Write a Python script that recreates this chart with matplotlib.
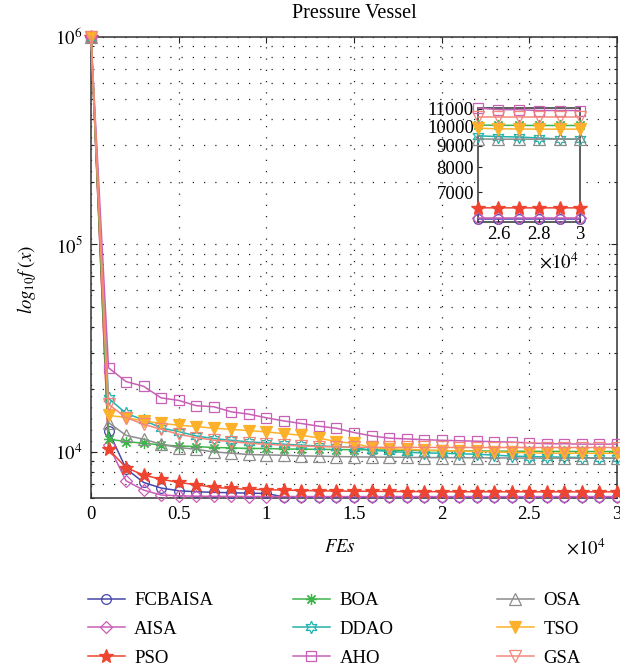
import matplotlib
matplotlib.use("Agg")
import matplotlib.pyplot as plt
from matplotlib.ticker import FixedLocator, LogLocator, NullLocator, NullFormatter

plt.rcParams['font.family'] = ['Liberation Serif', 'DejaVu Serif']
plt.rcParams['mathtext.fontset'] = 'stix'

# ---- data -------------------------------------------------------------
fes = [0, 1000, 2000, 3000, 4000, 5000, 6000, 7000, 8000, 9000, 10000,
       11000, 12000, 13000, 14000, 15000, 16000, 17000, 18000, 19000, 20000,
       21000, 22000, 23000, 24000, 25000, 26000, 27000, 28000, 29000, 30000]

names = ['FCBAISA', 'AISA', 'PSO', 'BOA', 'DDAO', 'AHO', 'OSA', 'TSO', 'GSA']

fcbaisa = [1000000, 12600, 8300, 7130, 6700, 6500, 6430, 6390, 6360, 6330, 6310,
           6070, 6062, 6061, 6060, 6060, 6060, 6060, 6060, 6060, 6060,
           6060, 6060, 6060, 6060, 6060, 6060, 6060, 6060, 6060, 6060]
aisa = [1000000, 10770, 7260, 6550, 6200, 6150, 6120, 6110, 6105, 6100, 6100,
        6098, 6097, 6096, 6095, 6095, 6094, 6094, 6094, 6094, 6094,
        6094, 6094, 6094, 6094, 6094, 6094, 6094, 6094, 6094, 6094]
pso = [1000000, 10300, 8410, 7730, 7390, 7130, 6950, 6750, 6670, 6610, 6580,
       6550, 6520, 6500, 6480, 6470, 6460, 6450, 6445, 6440, 6435,
       6432, 6430, 6430, 6428, 6426, 6425, 6425, 6425, 6425, 6425]
boa = [1000000, 11510, 11220, 11010, 10800, 10680, 10610, 10500, 10460, 10390, 10390,
       10330, 10310, 10290, 10270, 10250, 10230, 10200, 10180, 10160, 10140,
       10120, 10100, 10090, 10080, 10070, 10060, 10055, 10050, 10050, 10050]
ddao = [1000000, 18100, 15350, 14240, 13040, 12530, 11940, 11590, 11380, 11170, 11050,
        10890, 10770, 10680, 10610, 10500, 10200, 10050, 9950, 9900, 9850,
        9800, 9750, 9650, 9550, 9500, 9460, 9440, 9390, 9340, 9330]
aho = [1000000, 25400, 21800, 20700, 18200, 17700, 16700, 16500, 15600, 15200, 14600,
       14100, 13700, 13300, 13000, 12400, 11950, 11650, 11550, 11450, 11380,
       11320, 11260, 11200, 11150, 11050, 10950, 10950, 10900, 10900, 10900]
osa = [1000000, 13840, 12020, 11510, 10890, 10500, 10300, 10000, 9860, 9720, 9670,
       9640, 9570, 9540, 9500, 9470, 9450, 9430, 9420, 9400, 9390,
       9380, 9370, 9360, 9350, 9340, 9330, 9330, 9330, 9330, 9330]
tso = [1000000, 15000, 14630, 14090, 13740, 13440, 13250, 13000, 12850, 12670, 12480,
       12250, 12020, 11670, 11200, 11000, 10500, 10350, 10300, 10200, 10150,
       10100, 10050, 10000, 9950, 9900, 9870, 9860, 9850, 9850, 9850]
gsa = [1000000, 16940, 14630, 13590, 12850, 12160, 11720, 11380, 11220, 11010, 10890,
       10770, 10680, 10610, 10570, 10540, 10530, 10520, 10520, 10510, 10510,
       10500, 10500, 10500, 10500, 10500, 10500, 10500, 10500, 10500, 10500]

series = [fcbaisa, aisa, pso, boa, ddao, aho, osa, tso, gsa]

x_ticks = [0, 5000, 10000, 15000, 20000, 25000, 30000]
x_ticklabels = ['0', '0.5', '1', '1.5', '2', '2.5', '3']
y_ticks = [1e4, 1e5, 1e6]
y_ticklabels = [r'$10^{4}$', r'$10^{5}$', r'$10^{6}$']

inset_x_ticks = [26000, 28000, 30000]
inset_x_ticklabels = ['2.6', '2.8', '3']
inset_y_ticks = [7000, 8000, 9000, 10000, 11000]
inset_y_ticklabels = ['7000', '8000', '9000', '10000', '11000']

# ---- styles -----------------------------------------------------------
colors = ['#4545AA', '#C95DB7', '#EE4430', '#3DB54A', '#22B3AC',
          '#C860B5', '#8C8C8C', '#FDB12A', '#F4877A']
markers = ['o', 'D', '*', (8, 2, 0), (6, 1, 0), 's', '^', 'v', 'v']
faces = ['none', 'none', '#EE4430', 'none', 'none', 'none', 'none', '#FDB12A', 'none']
msizes = [7, 6, 10, 8, 9, 7, 8, 9, 8]

fs = 13.5
W, H = 620, 671

fig = plt.figure(figsize=(W / 100, H / 100), dpi=100)

ax = fig.add_axes([91 / W, 1 - 498 / H, (617 - 91) / W, (498 - 36.5) / H])
ax.set_yscale('log')

lines = []
for vals, c, m, fc, ms in zip(series, colors, markers, faces, msizes):
    ln, = ax.plot(fes, vals, color=c, lw=1.1, marker=m, ms=ms, mfc=fc,
                  mec=c, mew=0.9, clip_on=False, zorder=3)
    lines.append(ln)

ax.set_xlim(0, 30000)
ax.set_ylim(6000, 1e6)
ax.xaxis.set_major_locator(FixedLocator(x_ticks))
ax.set_xticklabels(x_ticklabels)
ax.yaxis.set_major_locator(FixedLocator(y_ticks))
ax.set_yticklabels(y_ticklabels)
ax.yaxis.set_minor_locator(LogLocator(base=10, subs=(2, 3, 4, 5, 6, 7, 8, 9)))
ax.yaxis.set_minor_formatter(NullFormatter())
ax.xaxis.set_minor_locator(NullLocator())

dots = (0, (1, 8))
ax.set_axisbelow(True)
ax.grid(True, which='major', axis='x', ls=dots, lw=0.9, color='#222222')
ax.grid(True, which='both', axis='y', ls=dots, lw=0.9, color='#222222')

ax.tick_params(which='both', direction='in', top=True, right=True,
               labelsize=fs, width=0.8, color='#222222')
ax.tick_params(which='major', length=4.5, pad=6)
ax.tick_params(which='minor', length=2.5)
for sp in ax.spines.values():
    sp.set_linewidth(1.1)
    sp.set_color('#333333')

fig.text(354 / W, 1 - 14 / H, 'Pressure Vessel', ha='center', va='center', fontsize=14.5)
fig.text(27 / W, 1 - 280 / H, r'$log_{10}f\;(x)$', rotation=90,
         ha='center', va='center', fontsize=fs)
fig.text(340 / W, 1 - 548 / H, r'$FEs$', ha='center', va='center', fontsize=fs)
fig.text(566 / W, 1 - 548 / H, r'$\times10^{4}$', ha='left', va='center', fontsize=fs)

# ---- zoomed view of the final stage ----------------------------------
axin = fig.add_axes([478 / W, 1 - 222 / H, 102 / W, 114 / H])
axin.set_yscale('log')
for vals, c, m, fc, ms in zip(series, colors, markers, faces, msizes):
    axin.plot(fes[25:], vals[25:], color=c, lw=1.1, marker=m, ms=ms, mfc=fc,
              mec=c, mew=0.9, clip_on=False, zorder=3)
axin.set_xlim(25000, 30000)
axin.set_ylim(5950, 11050)
axin.xaxis.set_major_locator(FixedLocator(inset_x_ticks))
axin.set_xticklabels(inset_x_ticklabels)
axin.yaxis.set_major_locator(FixedLocator(inset_y_ticks))
axin.set_yticklabels(inset_y_ticklabels)
axin.yaxis.set_minor_locator(NullLocator())
axin.yaxis.set_minor_formatter(NullFormatter())
axin.tick_params(which='both', direction='in', labelsize=fs, length=3,
                 width=0.8, pad=3, color='#222222')
for sp in axin.spines.values():
    sp.set_linewidth(1.1)
    sp.set_color('#333333')
fig.text(539 / W, 1 - 262 / H, r'$\times10^{4}$', ha='left', va='center', fontsize=fs)

# ---- legend: three columns -------------------------------------------
col_x = [88, 293, 497]
for k, x0 in enumerate(col_x):
    fig.legend(lines[3 * k:3 * k + 3], names[3 * k:3 * k + 3],
               loc='upper left', bbox_to_anchor=(x0 / W, 1 - 592 / H),
               frameon=False, borderpad=0, borderaxespad=0,
               handlelength=1.97, handletextpad=0.5, labelspacing=0.62,
               fontsize=fs)

fig.savefig('out.png', dpi=100)
